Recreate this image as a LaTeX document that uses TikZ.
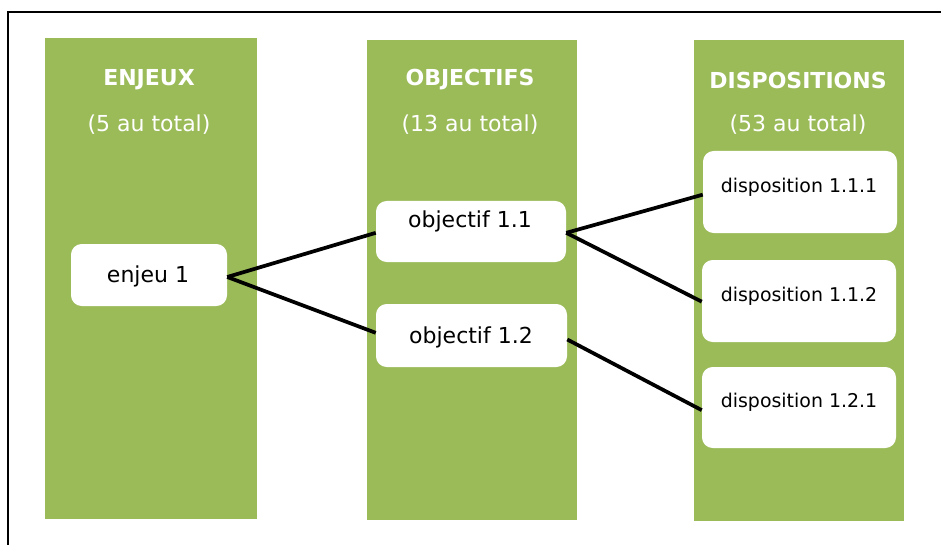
\documentclass[tikz,border=0pt]{standalone}
\usepackage{fontspec}
\setmainfont{DejaVu Sans}
\definecolor{colgreen}{HTML}{9BBB59}
\tikzset{
  col/.style={fill=colgreen, draw=none, inner sep=0pt},
  wbox/.style={fill=white, draw=none, rounded corners=8pt, inner sep=0pt},
  head/.style={text=white, font=\fontsize{16.5}{20}\selectfont\bfseries, inner sep=0pt},
  sub/.style={text=white, font=\fontsize{16.5}{20}\selectfont, inner sep=0pt},
  txt/.style={text=black, font=\fontsize{16.5}{20}\selectfont, inner sep=0pt},
  stxt/.style={text=black, font=\fontsize{14.2}{18}\selectfont, inner sep=0pt},
  link/.style={draw=black, line width=2.8pt},
  frame/.style={draw=black, line width=1.6pt}
}
\begin{document}
\begin{tikzpicture}[x=0.75pt, y=-0.75pt]
\useasboundingbox (0,0) rectangle (941,545);
% frame
\coordinate (ftr) at (945,12);
\coordinate (ftl) at (8,12);
\coordinate (fbl) at (8,549);
\draw[frame] (ftr) -- (ftl) -- (fbl);
% columns
\node[col, minimum width=212*0.75pt, minimum height=481*0.75pt] (c1) at (151,278.5) {};
\node[col, minimum width=210*0.75pt, minimum height=480*0.75pt] (c2) at (472,280) {};
\node[col, minimum width=210*0.75pt, minimum height=481*0.75pt] (c3) at (799,280.5) {};
% headers
\node[head] (h1) at (149,80) {ENJEUX};
\node[sub] (s1) at (149,125) {(5 au total)};
\node[head] (h2) at (470,80) {OBJECTIFS};
\node[sub] (s2) at (470,125) {(13 au total)};
\node[head] (h3) at (798,80) {DISPOSITIONS};
\node[sub] (s3) at (798,125) {(53 au total)};
% boxes
\node[wbox, minimum width=156*0.75pt, minimum height=62*0.75pt] (e1) at (149,275) {};
\node[txt] (e1t) at (148,276) {enjeu 1};
\node[wbox, minimum width=190*0.75pt, minimum height=61*0.75pt] (o11) at (471,231.5) {};
\node[txt] (o11t) at (470,221) {objectif 1.1};
\node[wbox, minimum width=191*0.75pt, minimum height=63*0.75pt] (o12) at (471.5,335.5) {};
\node[txt] (o12t) at (471,337) {objectif 1.2};
\node[wbox, minimum width=194*0.75pt, minimum height=82*0.75pt] (d111) at (800,192) {};
\node[stxt] (d111t) at (799,187) {disposition 1.1.1};
\node[wbox, minimum width=194*0.75pt, minimum height=82*0.75pt] (d112) at (799,301) {};
\node[stxt] (d112t) at (799,296) {disposition 1.1.2};
\node[wbox, minimum width=194*0.75pt, minimum height=81*0.75pt] (d121) at (799,407.5) {};
\node[stxt] (d121t) at (799,402) {disposition 1.2.1};
% links
\draw[link] ([yshift=-1.5pt]e1.east) -- ([yshift=-1pt]o11.west);
\draw[link] ([yshift=-1.5pt]e1.east) -- ([yshift=2pt]o12.west);
\draw[link] ([yshift=-1pt]o11.east) -- ([yshift=-2pt]d111.west);
\draw[link] ([yshift=-1pt]o11.east) -- ([yshift=-0.5pt]d112.west);
\draw[link] ([yshift=-3pt]o12.east) -- ([yshift=-2pt]d121.west);
\end{tikzpicture}
\end{document}
